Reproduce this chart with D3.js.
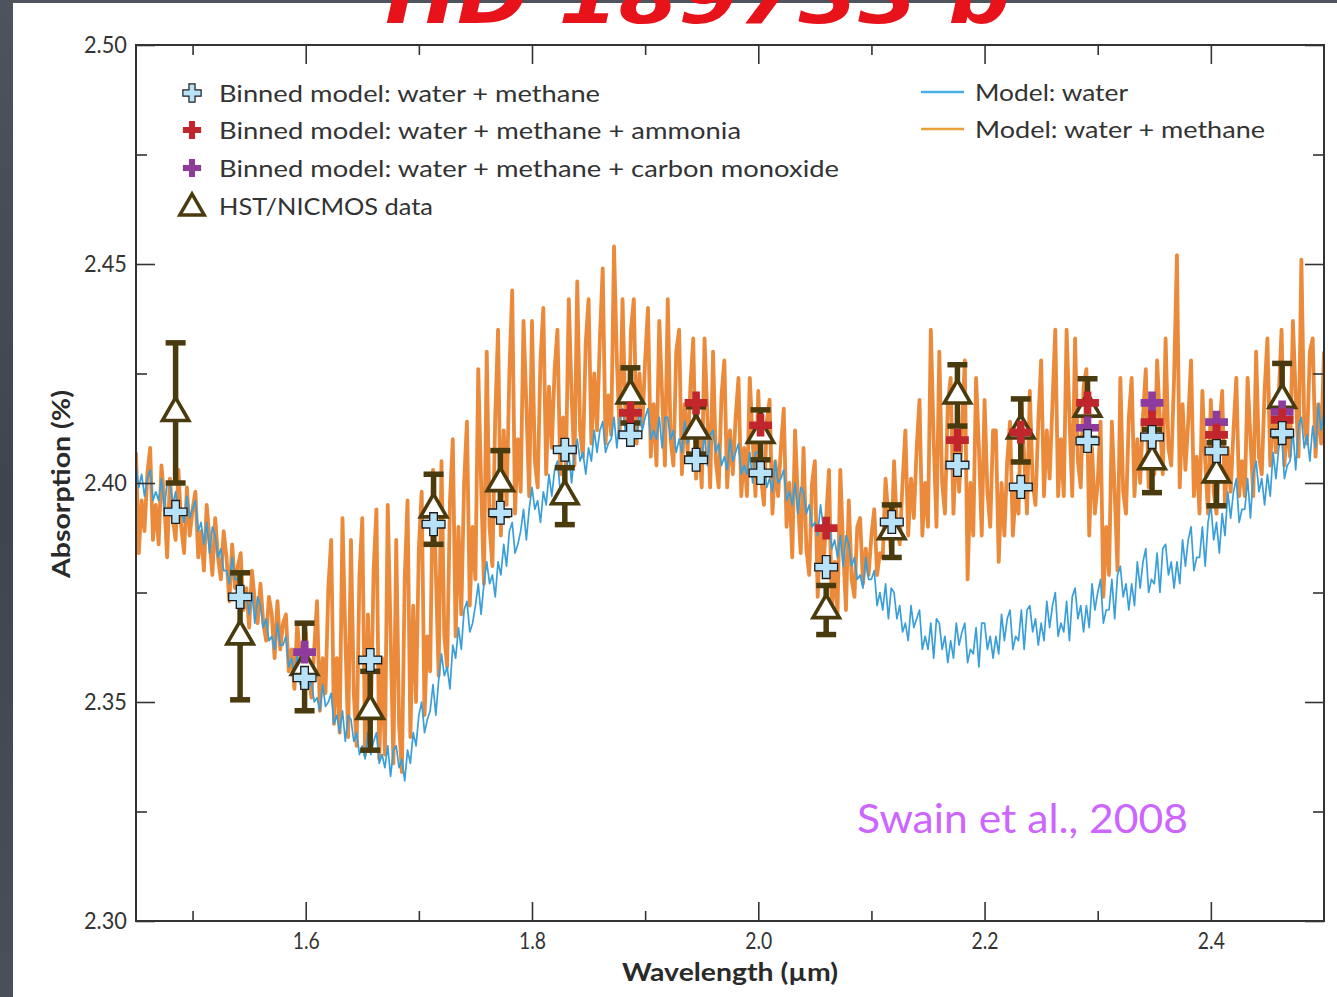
<!DOCTYPE html>
<html>
<head>
<meta charset="utf-8">
<script src="https://cdn.jsdelivr.net/npm/d3@7"></script>
<style>
  html, body { margin: 0; padding: 0; background: #454b53; }
  svg { display: block; }
</style>
</head>
<body>
<svg id="chart" width="1337" height="997"></svg>
<script>
// Transit absorption spectrum of HD 189733 b (NICMOS, 1.45–2.50 µm)

// model spectra sampled every 0.0025 µm from 1.45 µm
const specStart = 1.45;
const specStep = 0.0025;

const modelWater = [
  2.404,2.399,2.402,2.397, 2.401,2.403,2.396,2.398, 2.396,2.401,2.394,2.400, 2.400,2.395,2.398,2.393, 2.394,2.391,2.397,2.392,
  2.394,2.396,2.389,2.391, 2.386,2.391,2.384,2.390, 2.388,2.383,2.385,2.380, 2.380,2.377,2.383,2.378, 2.378,2.380,2.373,2.375,
  2.370,2.375,2.368,2.374, 2.372,2.367,2.369,2.364, 2.365,2.362,2.368,2.363, 2.363,2.365,2.358,2.360, 2.356,2.361,2.354,2.360,
  2.358,2.353,2.355,2.350, 2.351,2.348,2.354,2.349, 2.350,2.352,2.345,2.347, 2.343,2.348,2.341,2.347, 2.346,2.341,2.343,2.338,
  2.340,2.337,2.343,2.338, 2.341,2.343,2.336,2.338, 2.335,2.340,2.333,2.339, 2.340,2.335,2.337,2.332, 2.339,2.336,2.343,2.340,
  2.347,2.350,2.343,2.346, 2.348,2.354,2.347,2.355, 2.361,2.356,2.358,2.353, 2.363,2.360,2.367,2.362, 2.371,2.373,2.366,2.368,
  2.372,2.377,2.370,2.377, 2.382,2.377,2.379,2.374, 2.382,2.379,2.386,2.381, 2.389,2.391,2.384,2.386, 2.389,2.394,2.387,2.394,
  2.399,2.394,2.396,2.391, 2.398,2.395,2.402,2.397, 2.403,2.405,2.398,2.400, 2.402,2.407,2.400,2.407, 2.410,2.405,2.407,2.402,
  2.408,2.405,2.412,2.407, 2.412,2.414,2.407,2.409, 2.410,2.415,2.408,2.415, 2.417,2.412,2.414,2.409, 2.413,2.410,2.417,2.412,
  2.415,2.417,2.410,2.412, 2.410,2.415,2.408,2.415, 2.415,2.410,2.412,2.407, 2.410,2.407,2.414,2.409, 2.411,2.413,2.406,2.408,
  2.406,2.411,2.404,2.411, 2.412,2.407,2.409,2.404, 2.406,2.403,2.410,2.405, 2.407,2.409,2.402,2.404, 2.402,2.407,2.400,2.407,
  2.407,2.402,2.404,2.399, 2.401,2.398,2.405,2.400, 2.401,2.403,2.396,2.398, 2.395,2.400,2.393,2.399, 2.398,2.393,2.395,2.390,
  2.391,2.388,2.395,2.390, 2.390,2.392,2.385,2.387, 2.383,2.388,2.381,2.388, 2.386,2.381,2.383,2.378, 2.379,2.376,2.383,2.378,
  2.378,2.380,2.372,2.375, 2.371,2.377,2.369,2.376, 2.375,2.369,2.372,2.366, 2.368,2.364,2.372,2.367, 2.369,2.371,2.362,2.365,
  2.362,2.368,2.360,2.369, 2.368,2.362,2.365,2.359, 2.364,2.360,2.368,2.363, 2.366,2.368,2.359,2.362, 2.361,2.367,2.358,2.368,
  2.368,2.362,2.365,2.360, 2.365,2.361,2.370,2.364, 2.369,2.371,2.362,2.365, 2.364,2.371,2.362,2.371, 2.372,2.366,2.369,2.363,
  2.368,2.364,2.373,2.367, 2.372,2.375,2.365,2.368, 2.366,2.373,2.364,2.374, 2.376,2.369,2.372,2.366, 2.372,2.367,2.377,2.371,
  2.375,2.378,2.368,2.371, 2.371,2.378,2.369,2.379, 2.381,2.374,2.377,2.371, 2.377,2.372,2.382,2.376, 2.382,2.385,2.375,2.378,
  2.377,2.384,2.375,2.385, 2.386,2.379,2.382,2.376, 2.382,2.377,2.387,2.381, 2.387,2.390,2.380,2.383, 2.383,2.390,2.381,2.391,
  2.395,2.387,2.391,2.384, 2.393,2.388,2.398,2.392, 2.398,2.401,2.391,2.394, 2.394,2.401,2.392,2.402, 2.405,2.398,2.401,2.395,
  2.402,2.397,2.407,2.401, 2.408,2.411,2.401,2.404, 2.405,2.412,2.403,2.413, 2.415,2.408,2.411,2.405, 2.413,2.408,2.418,2.412,
  2.416
];

const modelWaterMethane = [
  2.407,2.384,2.396,2.389, 2.402,2.408,2.387,2.395, 2.386,2.404,2.396,2.383, 2.401,2.392,2.387,2.403, 2.390,2.384,2.399,2.388,
  2.394,2.398,2.383,2.389, 2.380,2.395,2.387,2.379, 2.392,2.383,2.378,2.389, 2.383,2.373,2.386,2.376, 2.381,2.384,2.371,2.376,
  2.367,2.380,2.373,2.368, 2.377,2.368,2.364,2.374, 2.370,2.360,2.373,2.362, 2.368,2.370,2.357,2.362, 2.353,2.368,2.360,2.354,
  2.366,2.356,2.351,2.362, 2.373,2.348,2.360,2.352, 2.376,2.387,2.345,2.360, 2.343,2.392,2.365,2.342, 2.387,2.352,2.340,2.379,
  2.392,2.338,2.370,2.345, 2.380,2.394,2.337,2.360, 2.338,2.395,2.366,2.336, 2.387,2.345,2.334,2.378, 2.396,2.342,2.372,2.350,
  2.385,2.398,2.347,2.365, 2.357,2.403,2.380,2.356, 2.405,2.365,2.358,2.396, 2.410,2.365,2.390,2.370, 2.400,2.414,2.372,2.390,
  2.378,2.426,2.400,2.377, 2.430,2.390,2.381,2.415, 2.435,2.388,2.412,2.395, 2.425,2.444,2.393,2.410, 2.398,2.437,2.418,2.397,
  2.437,2.405,2.399,2.428, 2.440,2.402,2.422,2.408, 2.426,2.435,2.402,2.415, 2.404,2.442,2.420,2.404, 2.446,2.412,2.406,2.432,
  2.442,2.409,2.425,2.412, 2.433,2.449,2.409,2.420, 2.411,2.454,2.428,2.411, 2.442,2.416,2.410,2.435, 2.442,2.409,2.425,2.413,
  2.428,2.440,2.406,2.418, 2.404,2.437,2.420,2.404, 2.442,2.410,2.404,2.430, 2.435,2.402,2.418,2.407, 2.422,2.433,2.401,2.412,
  2.399,2.433,2.415,2.399, 2.430,2.405,2.399,2.420, 2.428,2.399,2.412,2.402, 2.415,2.424,2.397,2.408, 2.397,2.424,2.410,2.397,
  2.421,2.401,2.395,2.414, 2.419,2.393,2.405,2.397, 2.408,2.417,2.390,2.400, 2.383,2.412,2.396,2.384, 2.408,2.385,2.379,2.400,
  2.405,2.374,2.390,2.380, 2.392,2.403,2.370,2.382, 2.370,2.403,2.385,2.371, 2.396,2.378,2.374,2.390, 2.392,2.377,2.385,2.379,
  2.388,2.394,2.379,2.384, 2.383,2.401,2.392,2.383, 2.405,2.390,2.386,2.400, 2.412,2.388,2.401,2.392, 2.408,2.419,2.388,2.400,
  2.390,2.435,2.410,2.390, 2.430,2.400,2.393,2.418, 2.424,2.393,2.410,2.398, 2.412,2.428,2.378,2.400, 2.388,2.424,2.408,2.388,
  2.419,2.398,2.390,2.412, 2.412,2.382,2.400,2.388, 2.405,2.414,2.388,2.398, 2.393,2.419,2.406,2.393, 2.421,2.400,2.395,2.414,
  2.428,2.397,2.412,2.401, 2.418,2.435,2.397,2.410, 2.397,2.435,2.415,2.397, 2.433,2.405,2.399,2.422, 2.426,2.388,2.408,2.393,
  2.400,2.414,2.374,2.390, 2.379,2.414,2.398,2.380, 2.424,2.398,2.393,2.415, 2.424,2.397,2.410,2.400, 2.415,2.426,2.399,2.408,
  2.402,2.428,2.414,2.402, 2.433,2.408,2.404,2.424, 2.452,2.399,2.418,2.403, 2.414,2.428,2.397,2.406, 2.393,2.421,2.405,2.393,
  2.419,2.398,2.393,2.412, 2.421,2.395,2.408,2.398, 2.412,2.424,2.397,2.405, 2.397,2.424,2.410,2.397, 2.430,2.406,2.402,2.421,
  2.433,2.404,2.418,2.407, 2.420,2.435,2.404,2.414, 2.406,2.437,2.420,2.406, 2.451,2.414,2.409,2.430, 2.433,2.406,2.418,2.409,
  2.430
];

// spectral bins (µm)
const binWavelength = [1.485, 1.542, 1.599, 1.657, 1.713, 1.772, 1.829, 1.887, 1.945,
                       2.002, 2.060, 2.118, 2.176, 2.232, 2.291, 2.348, 2.405, 2.463];
// HST/NICMOS measurements and 1-sigma errors (%)
const nicmosData = [2.416, 2.365, 2.358, 2.348, 2.394, 2.400, 2.397, 2.420, 2.412,
                    2.411, 2.371, 2.389, 2.420, 2.412, 2.417, 2.405, 2.402, 2.419];
const nicmosErr  = [0.016, 0.0145, 0.010, 0.009, 0.008, 0.0074, 0.0065, 0.0063, 0.0054,
                    0.0057, 0.0056, 0.006, 0.007, 0.0072, 0.0068, 0.0072, 0.0072, 0.0083];
// binned models (%)
const binnedWaterMethane = [2.3934, 2.3740, 2.3555, 2.3596, 2.3906, 2.3932, 2.4076, 2.4110, 2.4053,
                            2.4023, 2.3808, 2.3911, 2.4041, 2.3991, 2.4096, 2.4105, 2.4073, 2.4114];
const binnedAmmonia      = [2.3934, 2.3740, 2.3555, 2.3596, 2.3906, 2.3932, 2.4076, 2.4160, 2.4183,
                            2.4132, 2.3897, 2.3911, 2.4098, 2.4116, 2.4183, 2.4139, 2.4110, 2.4144];
const binnedCO           = [2.3934, 2.3740, 2.3614, 2.3596, 2.3906, 2.3932, 2.4076, 2.4110, 2.4053,
                            2.4023, 2.3808, 2.3911, 2.4041, 2.3991, 2.4126, 2.4183, 2.4139, 2.4162];

// axis ticks
const xMajorTicks = [1.6, 1.8, 2.0, 2.2, 2.4];
const xMinorTicks = [1.5, 1.7, 1.9, 2.1, 2.3];
const yMajorTicks = [2.30, 2.35, 2.40, 2.45, 2.50];
const yMinorTicks = [2.325, 2.375, 2.425, 2.475];

const W = 1337, H = 997;
const plot = { left: 136, right: 1324, top: 45, bottom: 921 };

const C = {
  orange: "#ea8a3a",
  blue: "#3a9fd9",
  legendBlue: "#4aaeea",
  legendOrange: "#e8a13a",
  olive: "#4a3b0f",
  lightBlue: "#b8e2f8",
  red: "#c1262c",
  purple: "#8d3c9e",
  text: "#333333"
};

const svg = d3.select("#chart");

// slate backdrop and white page
const defs = svg.append("defs");
const grad = defs.append("linearGradient").attr("id", "slate").attr("x1", 0).attr("y1", 0).attr("x2", 0).attr("y2", 1);
grad.append("stop").attr("offset", "0%").attr("stop-color", "#4e545d");
grad.append("stop").attr("offset", "50%").attr("stop-color", "#3f454d");
grad.append("stop").attr("offset", "100%").attr("stop-color", "#4a5059");
svg.append("rect").attr("width", W).attr("height", H).attr("fill", "url(#slate)");
svg.append("rect").attr("x", 13).attr("y", 3).attr("width", W - 13).attr("height", H - 3).attr("fill", "#ffffff");

// handwritten planet name along the top edge
svg.append("text")
  .attr("x", 385).attr("y", 23)
  .attr("textLength", 625).attr("lengthAdjust", "spacingAndGlyphs")
  .attr("fill", "#e8121b")
  .attr("font-family", "DejaVu Sans")
  .attr("font-weight", "bold").attr("font-style", "italic")
  .attr("font-size", 74)
  .text("HD 189733 b");

const x = d3.scaleLinear().domain([1.45, 2.50]).range([plot.left, plot.right]);
const y = d3.scaleLinear().domain([2.30, 2.50]).range([plot.bottom, plot.top]);

defs.append("clipPath").attr("id", "plotClip")
  .append("rect")
  .attr("x", plot.left).attr("y", plot.top)
  .attr("width", plot.right - plot.left).attr("height", plot.bottom - plot.top);

const spectrumLine = d3.line()
  .x((d, i) => x(specStart + i * specStep))
  .y(d => y(d));

const spectra = svg.append("g").attr("clip-path", "url(#plotClip)");
spectra.append("path").datum(modelWaterMethane)
  .attr("d", spectrumLine).attr("fill", "none")
  .attr("stroke", C.orange).attr("stroke-width", 3.8).attr("stroke-linejoin", "round");
spectra.append("path").datum(modelWater)
  .attr("d", spectrumLine).attr("fill", "none")
  .attr("stroke", C.blue).attr("stroke-width", 1.7).attr("stroke-linejoin", "round");

// axes with inward ticks on all four sides
function styleAxis(g) {
  g.select(".domain").remove();
  g.selectAll(".tick line").attr("stroke", C.text).attr("stroke-width", 1.6);
  g.selectAll(".tick text")
    .attr("fill", C.text)
    .attr("font-family", "Lato, 'Open Sans', sans-serif")
    .attr("font-size", 24);
}
const axes = svg.append("g");
axes.append("g").attr("transform", `translate(0,${plot.bottom})`)
  .call(d3.axisBottom(x).tickValues(xMajorTicks).tickSize(-19).tickPadding(11).tickFormat(d3.format(".1f")))
  .call(styleAxis)
  .call(g => g.selectAll(".tick text").attr("textLength", 27).attr("lengthAdjust", "spacingAndGlyphs"));
axes.append("g").attr("transform", `translate(0,${plot.bottom})`)
  .call(d3.axisBottom(x).tickValues(xMinorTicks).tickSize(-10).tickFormat(""))
  .call(styleAxis);
axes.append("g").attr("transform", `translate(0,${plot.top})`)
  .call(d3.axisTop(x).tickValues(xMajorTicks).tickSize(-19).tickFormat(""))
  .call(styleAxis);
axes.append("g").attr("transform", `translate(0,${plot.top})`)
  .call(d3.axisTop(x).tickValues(xMinorTicks).tickSize(-10).tickFormat(""))
  .call(styleAxis);
axes.append("g").attr("transform", `translate(${plot.left},0)`)
  .call(d3.axisLeft(y).tickValues(yMajorTicks).tickSize(-19).tickPadding(9).tickFormat(d3.format(".2f")))
  .call(styleAxis)
  .call(g => g.selectAll(".tick text").attr("textLength", 43).attr("lengthAdjust", "spacingAndGlyphs"));
axes.append("g").attr("transform", `translate(${plot.left},0)`)
  .call(d3.axisLeft(y).tickValues(yMinorTicks).tickSize(-11).tickFormat(""))
  .call(styleAxis);
axes.append("g").attr("transform", `translate(${plot.right},0)`)
  .call(d3.axisRight(y).tickValues(yMajorTicks).tickSize(-19).tickFormat(""))
  .call(styleAxis);
axes.append("g").attr("transform", `translate(${plot.right},0)`)
  .call(d3.axisRight(y).tickValues(yMinorTicks).tickSize(-11).tickFormat(""))
  .call(styleAxis);

svg.append("rect")
  .attr("x", plot.left).attr("y", plot.top)
  .attr("width", plot.right - plot.left).attr("height", plot.bottom - plot.top)
  .attr("fill", "none").attr("stroke", C.text).attr("stroke-width", 2);

// axis titles
svg.append("text")
  .attr("x", 730).attr("y", 981).attr("text-anchor", "middle")
  .attr("textLength", 216).attr("lengthAdjust", "spacingAndGlyphs")
  .attr("font-family", "Lato, sans-serif").attr("font-weight", "bold").attr("font-size", 24)
  .attr("fill", "#2a2a2a").text("Wavelength (µm)");
svg.append("text")
  .attr("transform", "translate(70,484) rotate(-90)").attr("text-anchor", "middle")
  .attr("textLength", 188).attr("lengthAdjust", "spacingAndGlyphs")
  .attr("font-family", "Lato, sans-serif").attr("font-weight", "bold").attr("font-size", 24)
  .attr("fill", "#2a2a2a").text("Absorption (%)");

// data and binned models
const bins = binWavelength.map((w, i) => ({
  w, v: nicmosData[i], e: nicmosErr[i],
  wm: binnedWaterMethane[i], nh3: binnedAmmonia[i], co: binnedCO[i]
}));

const marks = svg.append("g");
const err = marks.append("g").attr("stroke", C.olive).attr("stroke-width", 5.5);
err.selectAll("line.bar").data(bins).join("line").attr("class", "bar")
  .attr("x1", d => x(d.w)).attr("x2", d => x(d.w))
  .attr("y1", d => y(d.v + d.e)).attr("y2", d => y(d.v - d.e));
err.selectAll("line.capTop").data(bins).join("line").attr("class", "capTop")
  .attr("x1", d => x(d.w) - 10).attr("x2", d => x(d.w) + 10)
  .attr("y1", d => y(d.v + d.e)).attr("y2", d => y(d.v + d.e));
err.selectAll("line.capBot").data(bins).join("line").attr("class", "capBot")
  .attr("x1", d => x(d.w) - 10).attr("x2", d => x(d.w) + 10)
  .attr("y1", d => y(d.v - d.e)).attr("y2", d => y(d.v - d.e));

const triangle = d3.symbol(d3.symbolTriangle, 300);
const crossBig = d3.symbol(d3.symbolCross, 290);
const crossSmall = d3.symbol(d3.symbolCross, 185);

marks.selectAll("path.tri").data(bins).join("path").attr("class", "tri")
  .attr("d", triangle)
  .attr("transform", d => `translate(${x(d.w)},${y(d.v)})`)
  .attr("fill", "#ffffff").attr("stroke", C.olive).attr("stroke-width", 3.6).attr("stroke-linejoin", "miter");

marks.selectAll("path.co").data(bins).join("path").attr("class", "co")
  .attr("d", crossBig).attr("fill", C.purple)
  .attr("transform", d => `translate(${x(d.w)},${y(d.co)})`);
marks.selectAll("path.nh3").data(bins).join("path").attr("class", "nh3")
  .attr("d", crossBig).attr("fill", C.red)
  .attr("transform", d => `translate(${x(d.w)},${y(d.nh3)})`);
marks.selectAll("path.wm").data(bins).join("path").attr("class", "wm")
  .attr("d", crossBig).attr("fill", C.lightBlue).attr("stroke", "#1d1d1d").attr("stroke-width", 1.3)
  .attr("transform", d => `translate(${x(d.w)},${y(d.wm)})`);

// legend
const legendFont = "Lato, 'Open Sans', sans-serif";
const legendLeft = [
  { label: "Binned model: water + methane", len: 381, cy: 93, kind: "wm" },
  { label: "Binned model: water + methane + ammonia", len: 522, cy: 130, kind: "nh3" },
  { label: "Binned model: water + methane + carbon monoxide", len: 620, cy: 168, kind: "co" },
  { label: "HST/NICMOS data", len: 214, cy: 206, kind: "data" }
];
const lg = svg.append("g");
legendLeft.forEach(item => {
  const mx = 192;
  if (item.kind === "data") {
    lg.append("path").attr("d", d3.symbol(d3.symbolTriangle, 260))
      .attr("transform", `translate(${mx},${item.cy + 2})`)
      .attr("fill", "#fff").attr("stroke", C.olive).attr("stroke-width", 3.4);
  } else {
    const p = lg.append("path").attr("d", crossSmall).attr("transform", `translate(${mx},${item.cy})`);
    if (item.kind === "wm") p.attr("fill", C.lightBlue).attr("stroke", "#1d1d1d").attr("stroke-width", 1.2);
    if (item.kind === "nh3") p.attr("fill", C.red);
    if (item.kind === "co") p.attr("fill", C.purple);
  }
  lg.append("text").attr("x", 219).attr("y", item.cy + 8.5)
    .attr("textLength", item.len).attr("lengthAdjust", "spacingAndGlyphs")
    .attr("font-family", legendFont).attr("font-size", 24).attr("fill", C.text)
    .text(item.label);
});
const legendRight = [
  { label: "Model: water", len: 153, cy: 92, color: C.legendBlue },
  { label: "Model: water + methane", len: 290, cy: 129, color: C.legendOrange }
];
legendRight.forEach(item => {
  lg.append("line").attr("x1", 921).attr("x2", 964).attr("y1", item.cy).attr("y2", item.cy)
    .attr("stroke", item.color).attr("stroke-width", 2.6);
  lg.append("text").attr("x", 975).attr("y", item.cy + 9)
    .attr("textLength", item.len).attr("lengthAdjust", "spacingAndGlyphs")
    .attr("font-family", legendFont).attr("font-size", 24).attr("fill", C.text)
    .text(item.label);
});

// citation
svg.append("text")
  .attr("x", 857).attr("y", 833)
  .attr("textLength", 331).attr("lengthAdjust", "spacingAndGlyphs")
  .attr("font-family", "Lato, 'Open Sans', sans-serif").attr("font-size", 40)
  .attr("fill", "#cc66ff")
  .text("Swain et al., 2008");
</script>
</body>
</html>
